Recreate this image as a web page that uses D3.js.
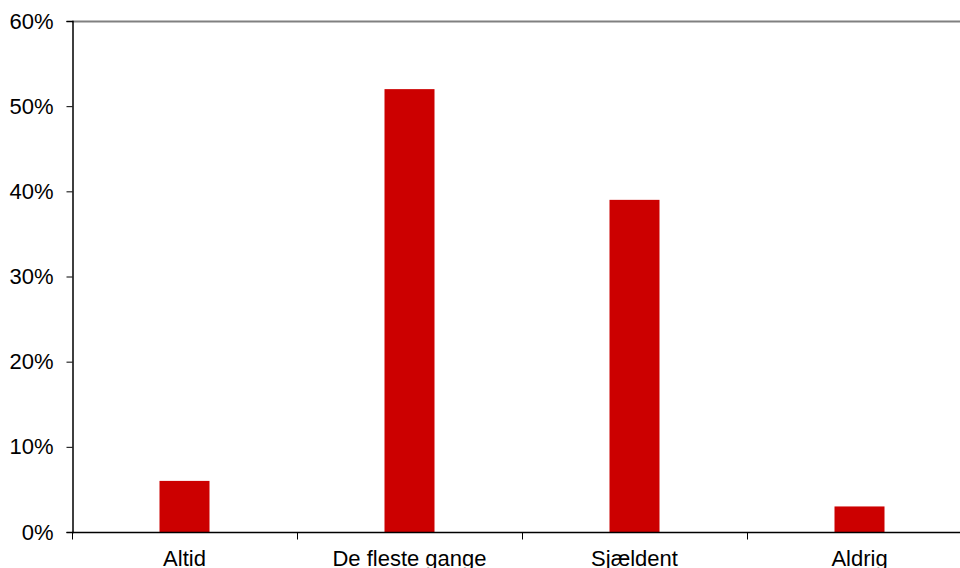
<!DOCTYPE html>
<html><head><meta charset="utf-8">
<script src="https://cdn.jsdelivr.net/npm/d3@7"></script>
<style>body{margin:0;background:#fff}svg{display:block}</style>
</head><body>
<svg id="c" width="960" height="568"></svg>
<script>
const categories = ["Altid", "De fleste gange", "Sjældent", "Aldrig"];
const values = [6, 52, 39, 3];
const yTicks = [0, 10, 20, 30, 40, 50, 60];

(function () {
const svg = d3.select("#c");
const mLeft = 72, mTop = 21, mBottom = 532, bandW = 225;
const mRight = mLeft + bandW * categories.length;
const x = d3.scaleBand().domain(categories).range([mLeft, mRight]).paddingInner(0).paddingOuter(0);
const y = d3.scaleLinear().domain([0, 60]).range([mBottom, mTop]);
const font = "Liberation Sans, Arial, sans-serif";
const fs = 22;

// top border
svg.append("line").attr("x1", mLeft).attr("x2", 960).attr("y1", mTop + 0.5).attr("y2", mTop + 0.5)
  .attr("stroke", "#808080").attr("stroke-width", 2);

// bars
const barW = 50;
svg.selectAll("rect.bar").data(categories).enter().append("rect")
  .attr("x", d => x(d) + x.bandwidth() / 2 - barW / 2)
  .attr("y", (d, i) => y(values[i]))
  .attr("width", barW)
  .attr("height", (d, i) => mBottom - y(values[i]))
  .attr("fill", "#CC0000");

// y axis
const yAxis = d3.axisLeft(y).tickValues(yTicks).tickFormat(d => d + "%").tickSize(6).tickPadding(13);
const gy = svg.append("g").attr("transform", `translate(${mLeft + 0.5},0)`).call(yAxis);
gy.select(".domain").attr("stroke", "#000").attr("stroke-width", 1.5);
gy.selectAll(".tick line").attr("stroke", "#000");
gy.selectAll("text").attr("font-family", font).attr("font-size", fs).attr("fill", "#000");

// x axis
const gx = svg.append("g").attr("transform", `translate(0,${mBottom + 0.5})`);
gx.append("line").attr("x1", mLeft).attr("x2", mRight).attr("stroke", "#000").attr("stroke-width", 1.5);
const boundaries = d3.range(categories.length + 1).map(i => mLeft + i * bandW);
gx.selectAll("line.tk").data(boundaries).enter().append("line")
  .attr("x1", d => d + 0.5).attr("x2", d => d + 0.5).attr("y1", 0).attr("y2", 7).attr("stroke", "#000");
gx.selectAll("text").data(categories).enter().append("text")
  .attr("x", d => x(d) + x.bandwidth() / 2).attr("y", 33)
  .attr("text-anchor", "middle").attr("font-family", font).attr("font-size", fs).attr("fill", "#000")
  .text(d => d);
})();
</script>
</body></html>
